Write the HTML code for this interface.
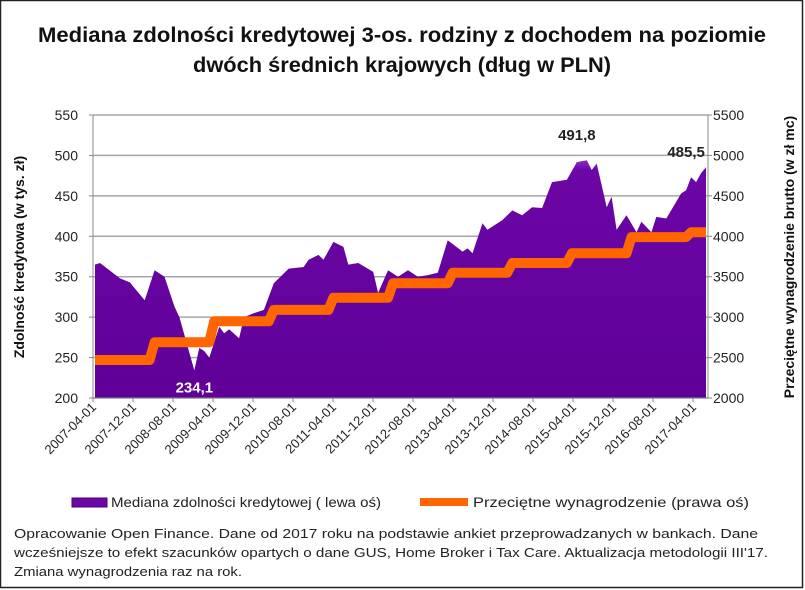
<!DOCTYPE html>
<html><head><meta charset="utf-8"><style>
html,body{margin:0;padding:0;background:#fff;}
svg{display:block;font-family:"Liberation Sans",Calibri,sans-serif;}
</style></head><body>
<svg width="805" height="590" viewBox="0 0 805 590" id="chart">
<defs>
<linearGradient id="pg" x1="0" y1="0" x2="0" y2="1"><stop offset="0" stop-color="#8a2cc8"/><stop offset="0.04" stop-color="#6c06a6"/><stop offset="1" stop-color="#5f0098"/></linearGradient>
</defs>
<rect x="0.5" y="0.5" width="802" height="587" fill="#fff" stroke="#222" stroke-width="1.5"/>
<text x="402" y="42" text-anchor="middle" font-size="21" font-weight="bold" fill="#111" textLength="728" lengthAdjust="spacingAndGlyphs">Mediana zdolności kredytowej 3-os. rodziny z dochodem na poziomie</text>
<text x="402" y="72" text-anchor="middle" font-size="21" font-weight="bold" fill="#111" textLength="418" lengthAdjust="spacingAndGlyphs">dwóch średnich krajowych (dług w PLN)</text>
<g id="grid"></g>
<g id="area"></g>
<g id="wage"></g>
<g id="axes"></g>
<text transform="translate(24,257) rotate(-90)" text-anchor="middle" font-size="14" font-weight="bold" fill="#111">Zdolność kredytowa (w tys. zł)</text>
<text transform="translate(794,257) rotate(-90)" text-anchor="middle" font-size="14" font-weight="bold" fill="#111">Przeciętne wynagrodzenie brutto (w zł mc)</text>
<g>
<rect x="72" y="498" width="35" height="9" fill="#6c06a6" stroke="#4a0070"/>
<text x="111" y="507" font-size="14" fill="#222" textLength="270" lengthAdjust="spacingAndGlyphs">Mediana zdolności kredytowej ( lewa oś)</text>
<line x1="420" y1="502" x2="468" y2="502" stroke="#ff6600" stroke-width="8"/>
<text x="473" y="507" font-size="14" fill="#222" textLength="276" lengthAdjust="spacingAndGlyphs">Przeciętne wynagrodzenie (prawa oś)</text>
</g>
<g font-size="13" fill="#222">
<text x="14" y="538" textLength="744" lengthAdjust="spacingAndGlyphs">Opracowanie Open Finance. Dane od 2017 roku na podstawie ankiet przeprowadzanych w bankach. Dane</text>
<text x="14" y="557" textLength="754" lengthAdjust="spacingAndGlyphs">wcześniejsze to efekt szacunków opartych o dane GUS, Home Broker i Tax Care. Aktualizacja metodologii III'17.</text>
<text x="14" y="576" textLength="228" lengthAdjust="spacingAndGlyphs">Zmiana wynagrodzenia raz na rok.</text>
</g>
</svg>
<script>
// months since 2007-04 and median credit capacity (thous. PLN)
const creditMonths = [0,1,5,7,10,12,14,16,17,20,21,22,23,25,26,27,29,30,32,34,36,39,42,43,45,46,48,49,50,51,53,56,57,59,61,63,65,67,69,71,74,75,76,78,79,82,84,86,88,90,92,95,97,99,100,101,103,104,105,107,109,110,112,113,115,118,119,120,121,122,123];
const creditValues = [365,367,348,343,321,358,350,313,300,234.1,262,258,250,288,280,285,274,300,305,309,342,360,362,371,377,371,393,390,387,365,367,356,330,358,350,358,350,352,355,395,381,385,379,416,408,420,432,426,436,435,467,470,491.8,494,482,490,436,449,408,426,405,418,405,424,422,453,457,473,467,478,485.5];
// wage steps (PLN/month), start month of each level
const wageStarts = [0,11,23,35,47,59,71,83,95,107,119];
const wageValues = [2470,2690,2950,3090,3240,3420,3550,3670,3790,3990,4050];
const leftTicks = [200,250,300,350,400,450,500,550];
const rightTicks = [2000,2500,3000,3500,4000,4500,5000,5500];
const xTickLabels = ["2007-04-01","2007-12-01","2008-08-01","2009-04-01","2009-12-01","2010-08-01","2011-04-01","2011-12-01","2012-08-01","2013-04-01","2013-12-01","2014-08-01","2015-04-01","2015-12-01","2016-08-01","2017-04-01"];
const lastMonth = 123;

const NS="http://www.w3.org/2000/svg";
const X0=93,X1=708,Y0=398,Y1=115;
const PX0=95,PX1=706;
const xs=m=>PX0+(m/lastMonth)*(PX1-PX0);
const yL=v=>Y0-(v-200)/(550-200)*(Y0-Y1);
const yR=v=>Y0-(v-2000)/(5500-2000)*(Y0-Y1);
function mk(tag,attrs,parent){const e=document.createElementNS(NS,tag);for(const k in attrs)e.setAttribute(k,attrs[k]);parent.appendChild(e);return e;}
const grid=document.getElementById('grid'),area=document.getElementById('area'),wage=document.getElementById('wage'),axes=document.getElementById('axes');

leftTicks.forEach((t,i)=>{
  const y=yL(t);
  const g=mk('line',{x1:X0,x2:X1,y1:y,y2:y,stroke:'#a6a6a6','stroke-width':1.5},grid);
  
  
  const tl=mk('text',{x:78,y:y+5,'text-anchor':'end','font-size':14,fill:'#222'},axes);tl.textContent=t;
  
  
  mk('line',{x1:X0-4,x2:X0,y1:y,y2:y,stroke:'#888'},axes);
  mk('line',{x1:X1,x2:X1+4,y1:yR(rightTicks[i]),y2:yR(rightTicks[i]),stroke:'#888'},axes);
  const tr=mk('text',{x:713,y:yR(rightTicks[i])+5,'font-size':14,fill:'#222'},axes);tr.textContent=rightTicks[i];
  
  
});
mk('line',{x1:X0,x2:X0,y1:Y1,y2:Y0+4,stroke:'#888'},axes);
mk('line',{x1:X1,x2:X1,y1:Y1,y2:Y0,stroke:'#888'},axes);
mk('line',{x1:X0,x2:X1,y1:Y0,y2:Y0,stroke:'#888'},axes);
xTickLabels.forEach((lab,i)=>{
  const x=X0+i*40;
  mk('line',{x1:x,x2:x,y1:Y0,y2:Y0+4,stroke:'#888'},axes);
  const t=mk('text',{x:0,y:0,'text-anchor':'end','font-size':13,fill:'#222',transform:`translate(${x+4},${Y0+10}) rotate(-45)`},axes);
  t.textContent=lab;
  
  
});

let d=`M${xs(creditMonths[0])},${Y0}`;
creditMonths.forEach((m,i)=>{d+=` L${xs(m).toFixed(1)},${yL(creditValues[i]).toFixed(1)}`;});
d+=` L${xs(creditMonths[creditMonths.length-1])},${Y0} Z`;
const ap=mk('path',{d,fill:'url(#pg)'},area);



let wd='';
wageStarts.forEach((m,i)=>{
  const y=yR(wageValues[i]);
  const xs0=i===0?xs(0):xs(m+1);
  const xe=i===wageStarts.length-1?xs(lastMonth):xs(wageStarts[i+1]);
  wd+=(i===0?'M':' L')+xs0.toFixed(1)+','+y.toFixed(1)+' L'+xe.toFixed(1)+','+y.toFixed(1);
});
const wp=mk('path',{d:wd,fill:'none',stroke:'#ff6600','stroke-width':10,'stroke-linejoin':'round'},wage);



function label(txt,m,v,dy,color,name){
  const t=mk('text',{x:xs(m),y:yL(v)+dy,'text-anchor':'middle','font-size':15,'font-weight':'bold',fill:color},axes);
  t.textContent=txt;
  
  
}
const iMin=creditValues.indexOf(234.1),iMax=creditValues.indexOf(491.8),iLast=creditValues.length-1;
label('234,1',creditMonths[iMin],creditValues[iMin],22,'#fff','min-value-label');
label('491,8',creditMonths[iMax],creditValues[iMax],-22,'#222','max-value-label');
label('485,5',creditMonths[iLast]-4,creditValues[iLast],-10,'#222','last-value-label');
</script>
</body></html>
